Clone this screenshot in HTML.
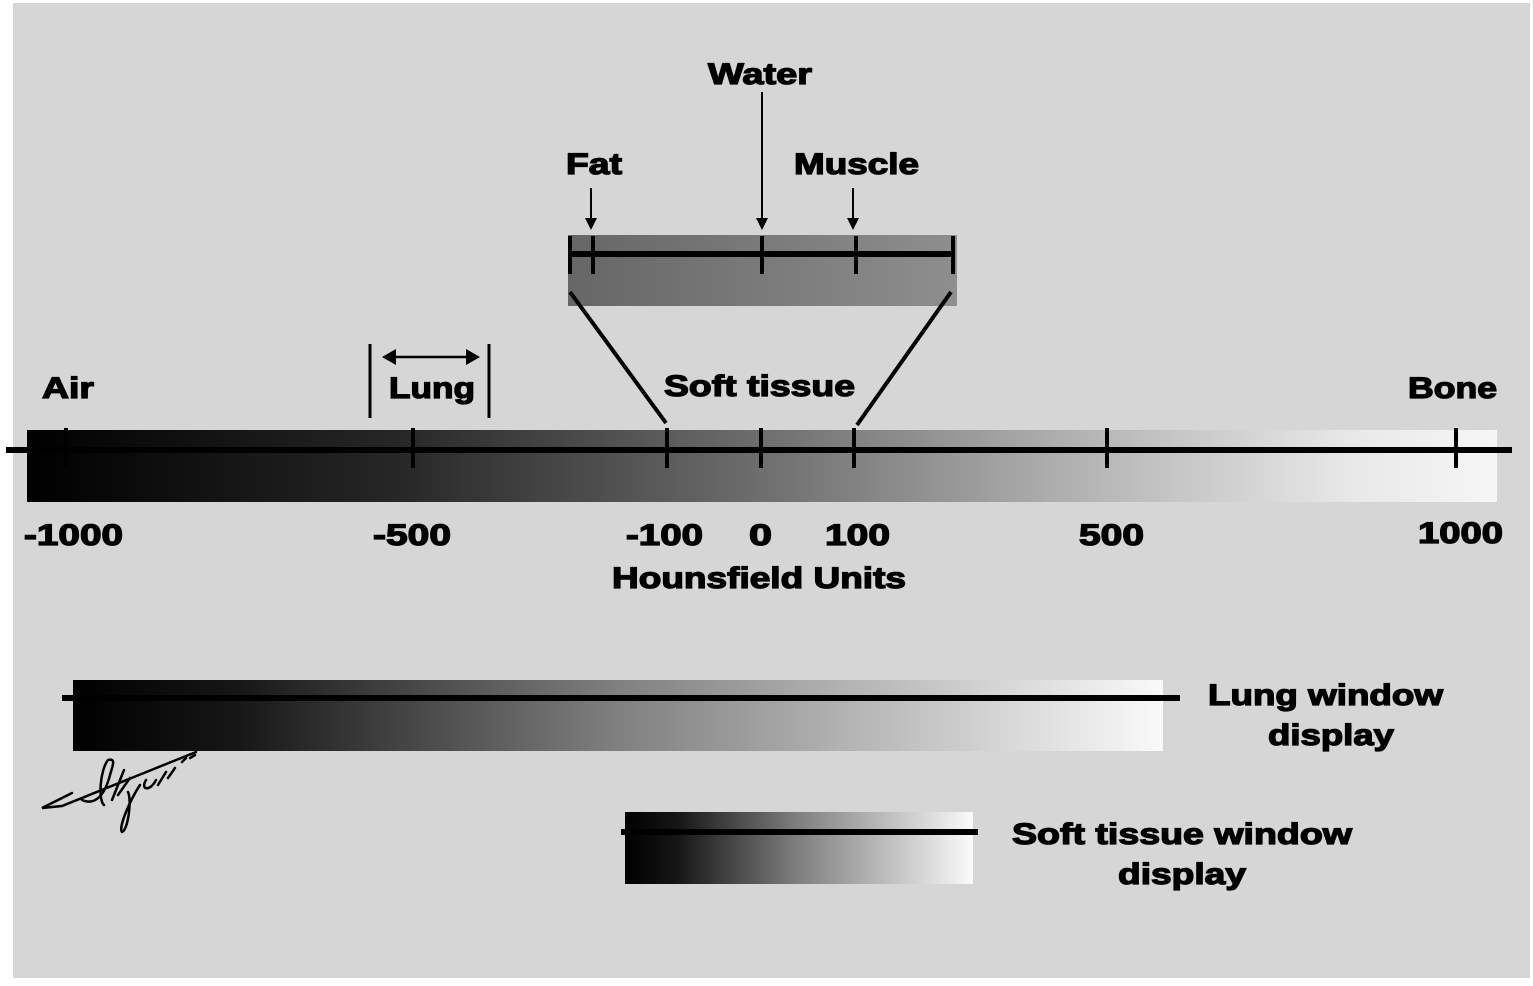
<!DOCTYPE html>
<html><head><meta charset="utf-8"><style>
html,body{margin:0;padding:0;background:#fff;}
svg{display:block}
text{font-family:"Liberation Sans",Arial,sans-serif;font-weight:bold;fill:#000;stroke:#000;stroke-width:1.3;}
</style></head><body>
<svg width="1533" height="986" viewBox="0 0 1533 986" xmlns="http://www.w3.org/2000/svg">
<defs>
<linearGradient id="main" x1="0" x2="1" y1="0" y2="0">
<stop offset="0" stop-color="#000"/>
<stop offset="0.25" stop-color="#262626"/>
<stop offset="0.5" stop-color="#6e6e6e"/>
<stop offset="0.72" stop-color="#b4b4b4"/>
<stop offset="0.9" stop-color="#e8e8e8"/>
<stop offset="1" stop-color="#f6f6f6"/>
</linearGradient>
<linearGradient id="zoom" x1="0" x2="1" y1="0" y2="0">
<stop offset="0" stop-color="#666"/>
<stop offset="1" stop-color="#8e8e8e"/>
</linearGradient>
<linearGradient id="win" x1="0" x2="1" y1="0" y2="0">
<stop offset="0" stop-color="#000"/>
<stop offset="0.15" stop-color="#161616"/>
<stop offset="0.5" stop-color="#808080"/>
<stop offset="1" stop-color="#fafafa"/>
</linearGradient>
</defs>
<rect x="13" y="3" width="1517" height="975" fill="#d6d6d6"/>

<rect x="27" y="430" width="1470" height="72" fill="url(#main)"/>
<rect x="6" y="447" width="1506" height="6" fill="#000"/>
<g stroke="#000" stroke-width="4">
<line x1="66" y1="428" x2="66" y2="468"/>
<line x1="413" y1="428" x2="413" y2="468"/>
<line x1="667" y1="428" x2="667" y2="468"/>
<line x1="761" y1="428" x2="761" y2="468"/>
<line x1="854" y1="428" x2="854" y2="468"/>
<line x1="1107" y1="428" x2="1107" y2="468"/>
<line x1="1456" y1="428" x2="1456" y2="468"/>
</g>

<rect x="568" y="235" width="389" height="71" fill="url(#zoom)"/>
<rect x="568" y="251" width="387" height="6" fill="#000"/>
<g stroke="#000" stroke-width="4">
<line x1="570" y1="236" x2="570" y2="274"/>
<line x1="593" y1="236" x2="593" y2="274"/>
<line x1="762" y1="236" x2="762" y2="274"/>
<line x1="856" y1="236" x2="856" y2="274"/>
<line x1="953" y1="236" x2="953" y2="274"/>
<line x1="570" y1="292" x2="666" y2="423"/>
<line x1="951" y1="292" x2="857" y2="425"/>
<line x1="591" y1="188" x2="591" y2="222" stroke-width="2"/>
<line x1="762" y1="92" x2="762" y2="222" stroke-width="2"/>
<line x1="853" y1="188" x2="853" y2="222" stroke-width="2"/>
</g>
<polygon points="585,218 597,218 591,230" fill="#000"/>
<polygon points="756,218 768,218 762,230" fill="#000"/>
<polygon points="847,218 859,218 853,230" fill="#000"/>

<g stroke="#000" stroke-width="3">
<line x1="370" y1="344" x2="370" y2="418"/>
<line x1="489" y1="344" x2="489" y2="418"/>
<line x1="390" y1="357" x2="472" y2="357" stroke-width="2.5"/>
</g>
<polygon points="382,357 396,349 396,365" fill="#000"/>
<polygon points="480,357 466,349 466,365" fill="#000"/>

<g font-size="30" lengthAdjust="spacingAndGlyphs">
<text x="708" y="84" textLength="104" lengthAdjust="spacingAndGlyphs">Water</text>
<text x="566" y="174" textLength="56" lengthAdjust="spacingAndGlyphs">Fat</text>
<text x="794" y="174" textLength="125" lengthAdjust="spacingAndGlyphs">Muscle</text>
<text x="42" y="398" textLength="52" lengthAdjust="spacingAndGlyphs">Air</text>
<text x="389" y="398" textLength="86" lengthAdjust="spacingAndGlyphs">Lung</text>
<text x="664" y="396" textLength="191" lengthAdjust="spacingAndGlyphs">Soft tissue</text>
<text x="1408" y="398" textLength="89" lengthAdjust="spacingAndGlyphs">Bone</text>
<text x="24" y="545" textLength="99" lengthAdjust="spacingAndGlyphs">-1000</text>
<text x="373" y="545" textLength="78" lengthAdjust="spacingAndGlyphs">-500</text>
<text x="626" y="545" textLength="77" lengthAdjust="spacingAndGlyphs">-100</text>
<text x="749" y="545" textLength="23" lengthAdjust="spacingAndGlyphs">0</text>
<text x="825" y="545" textLength="65" lengthAdjust="spacingAndGlyphs">100</text>
<text x="1079" y="545" textLength="65" lengthAdjust="spacingAndGlyphs">500</text>
<text x="1418" y="543" textLength="85" lengthAdjust="spacingAndGlyphs">1000</text>
<text x="612" y="588" textLength="294" lengthAdjust="spacingAndGlyphs">Hounsfield Units</text>
<text x="1208" y="705" textLength="235" lengthAdjust="spacingAndGlyphs">Lung window</text>
<text x="1268" y="745" textLength="126" lengthAdjust="spacingAndGlyphs">display</text>
<text x="1012" y="844" textLength="340" lengthAdjust="spacingAndGlyphs">Soft tissue window</text>
<text x="1118" y="884" textLength="128" lengthAdjust="spacingAndGlyphs">display</text>
</g>

<rect x="73" y="680" width="1090" height="71" fill="url(#win)"/>
<rect x="62" y="695" width="1118" height="6" fill="#000"/>
<rect x="625" y="812" width="348" height="72" fill="url(#win)"/>
<rect x="621" y="829" width="357" height="6" fill="#000"/>

<g fill="none" stroke="#000" stroke-width="2.5" stroke-linecap="round">
<path d="M72,793 L42,808 L62,806 L196,752"/>
<path d="M82,800 C95,806 105,795 110,775 C113,765 116,758 108,760 C100,770 98,800 104,805"/>
<path d="M112,800 L124,770 M118,795 L130,778 M128,792 C132,800 128,830 122,832 C118,828 130,800 140,785 M146,780 C140,790 150,792 156,780 M158,785 L166,772 M168,778 L175,768"/>
<path d="M182,762 L186,758 M190,758 L195,755"/>
</g>
</svg>
</body></html>
